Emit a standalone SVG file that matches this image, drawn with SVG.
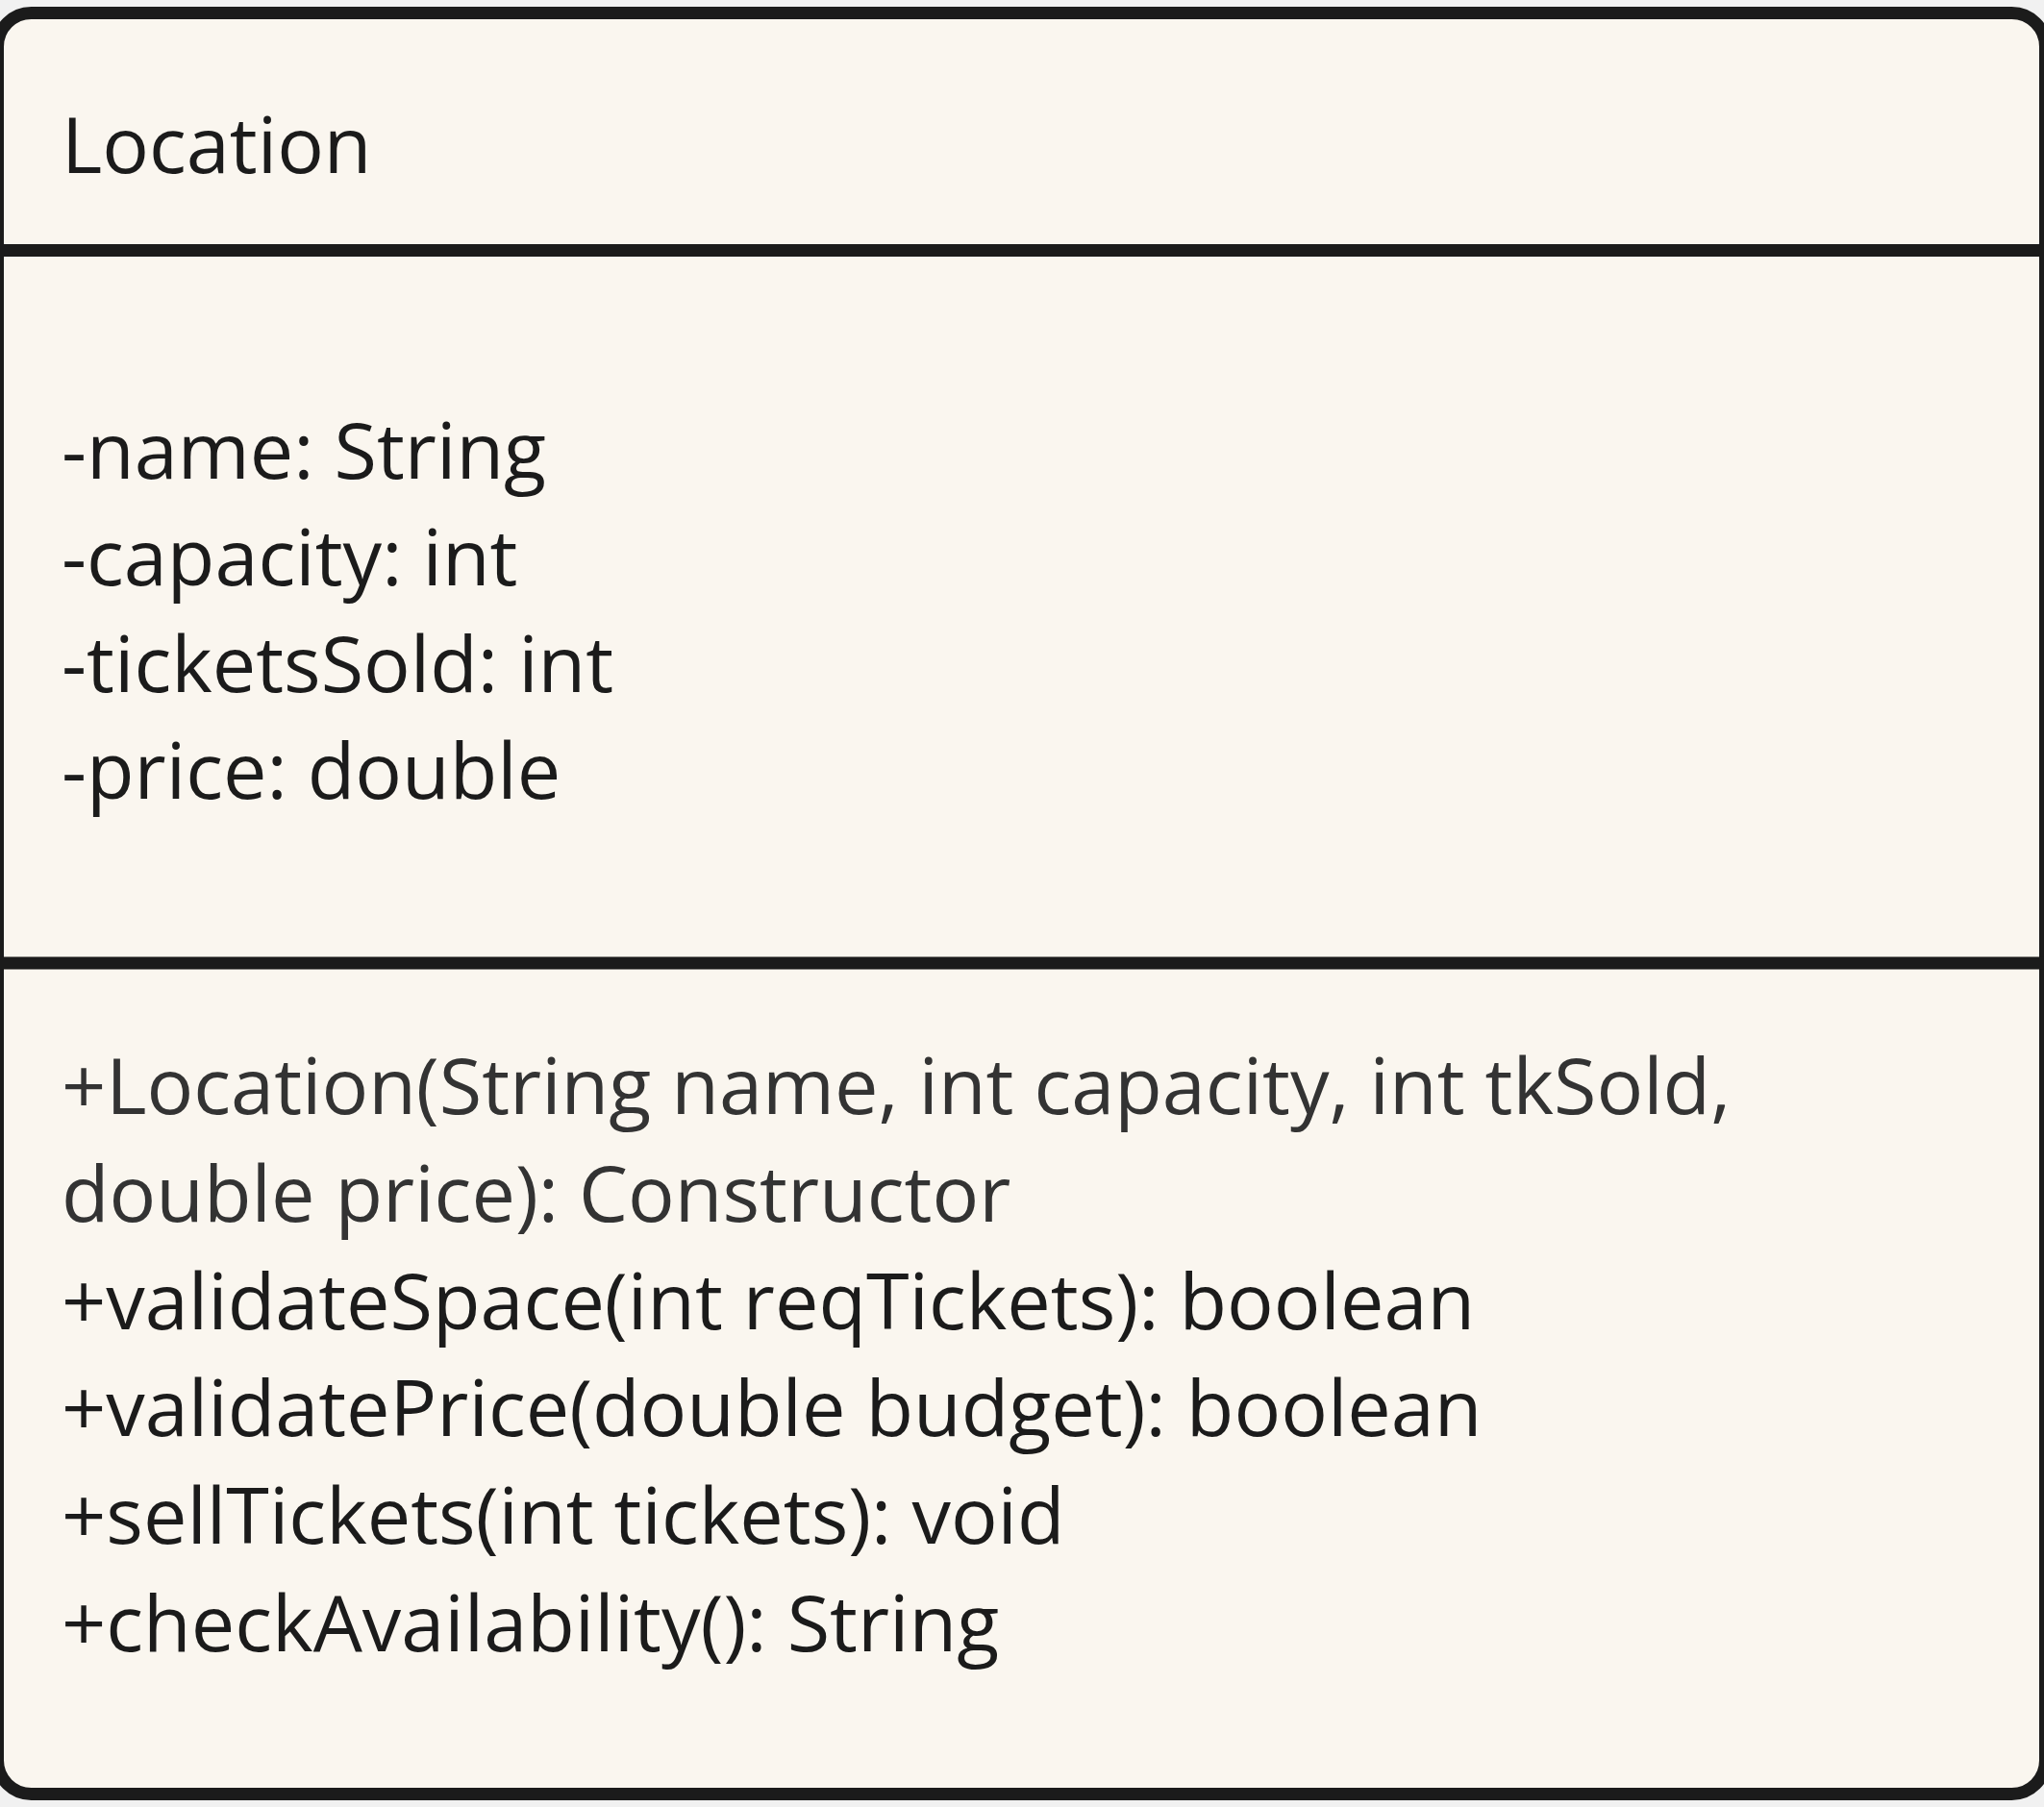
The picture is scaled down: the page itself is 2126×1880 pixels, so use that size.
<svg xmlns="http://www.w3.org/2000/svg" width="2126" height="1880" viewBox="0 0 2126 1880">
<style>
.t{font-family:"Open Sans","Noto Sans",sans-serif;font-size:81px;fill:#1b1b1b}
.g{fill:#333333}
.ln{stroke:#1b1b1b;stroke-width:13}
</style>
<rect x="0" y="0" width="2126" height="1880" fill="#f1f1f1"/>
<g id="location-class">
<rect x="-2.5" y="13.5" width="2130" height="1853" rx="35" ry="35" fill="#faf6ef" stroke="#1b1b1b" stroke-width="13"/>
<line class="ln" x1="0" y1="260.5" x2="2126" y2="260.5"/>
<line class="ln" x1="0" y1="1002" x2="2126" y2="1002"/>
<text class="t" x="64" y="180">Location</text>
<text class="t" x="64" y="498">-name: String</text>
<text class="t" x="64" y="609">-capacity: int</text>
<text class="t" x="64" y="720">-ticketsSold: int</text>
<text class="t" x="64" y="831">-price: double</text>
<text class="t g" x="64" y="1159">+Location(String name, int capacity, int tkSold,</text>
<text class="t g" x="64" y="1271">double price): Constructor</text>
<text class="t" x="64" y="1383">+validateSpace(int reqTickets): boolean</text>
<text class="t" x="64" y="1494">+validatePrice(double budget): boolean</text>
<text class="t" x="64" y="1606">+sellTickets(int tickets): void</text>
<text class="t" x="64" y="1718">+checkAvailability(): String</text>
</g>
<g id="connectors"></g>
</svg>
